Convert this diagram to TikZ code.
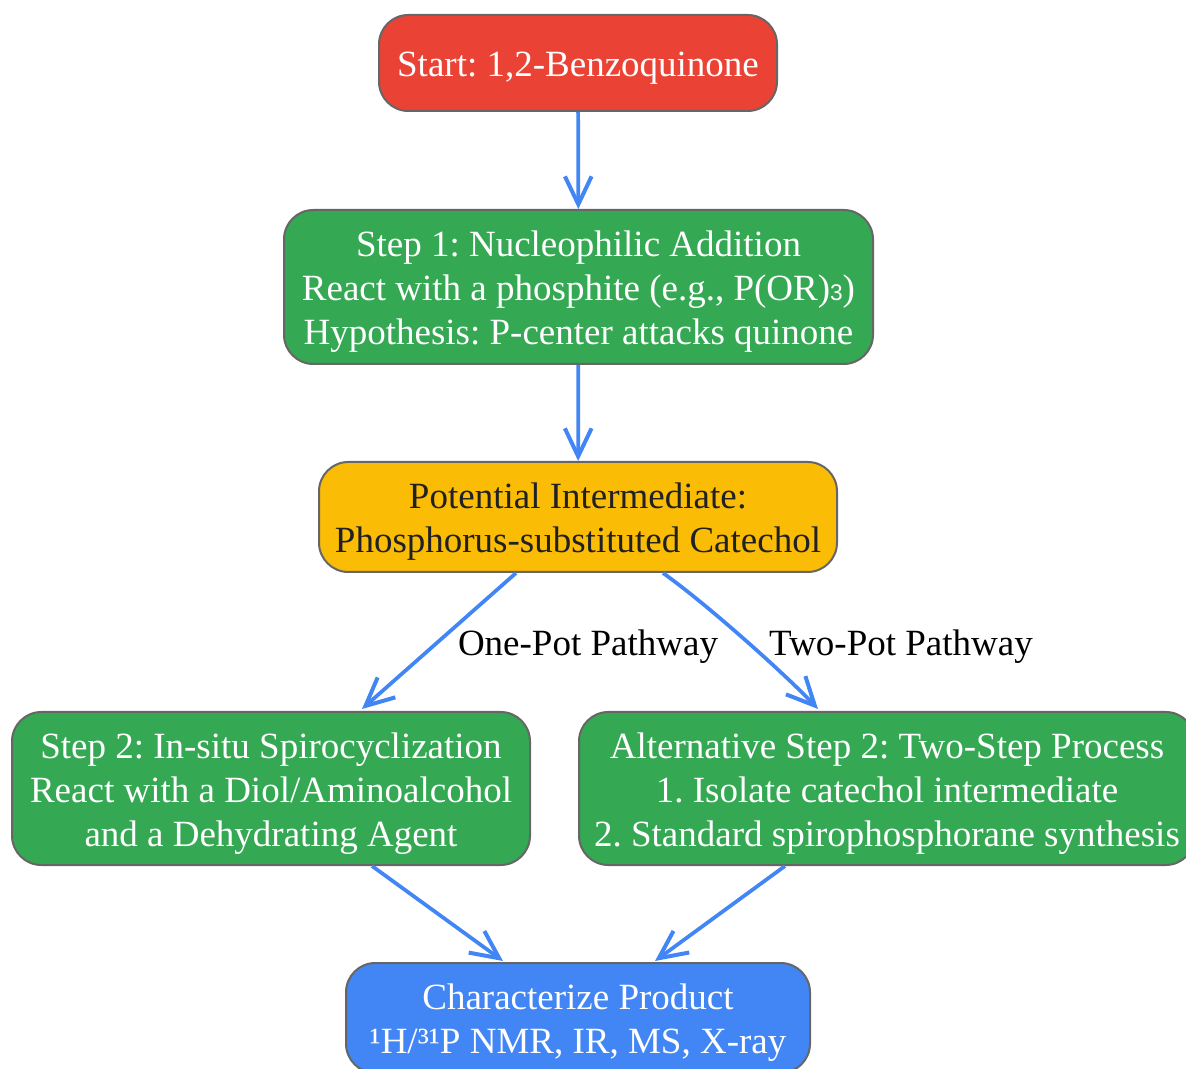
\documentclass[tikz,border=0pt]{standalone}
\usepackage{fontspec}
\setmainfont{Liberation Serif}
\newfontfamily\subfont{Liberation Sans}
\usetikzlibrary{arrows.meta,calc}
\definecolor{cred}{HTML}{EA4335}
\definecolor{cgreen}{HTML}{34A853}
\definecolor{cyellow}{HTML}{FBBC05}
\definecolor{cblue}{HTML}{4285F4}
\definecolor{cborder}{HTML}{666666}
\definecolor{cdark}{HTML}{202124}
\newcommand{\btxt}[1]{\raisebox{-3.8pt}[\height][\depth]{\begin{tabular}{@{}c@{}}#1\end{tabular}}}
\begin{document}
\begin{tikzpicture}[x=0.75pt,y=-0.75pt,
  box/.style={draw=cborder, line width=1.5pt, rounded corners=22pt,
    font=\fontsize{27.75}{33}\selectfont\frenchspacing, inner sep=0pt},
  conn/.style={draw=cblue, line width=2.8pt,
    -{Straight Barb[length=21pt,width=20pt,line width=3pt]}},
  lbl/.style={font=\fontsize{27.75}{33}\selectfont, text=black, inner sep=0pt}]
\useasboundingbox (0,0) rectangle (1186,1069);
\node[box, fill=cred, text=white, minimum width=298.5pt, minimum height=72pt] (start) at (578,63)
  {\btxt{Start: 1,2-Benzoquinone}};
\node[box, fill=cgreen, text=white, minimum width=441.75pt, minimum height=115.5pt] (step1) at (578.5,287)
  {\btxt{Step 1: Nucleophilic Addition\\React with a phosphite (e.g., P(OR){\subfont\fontsize{17}{17}\selectfont 3})\\Hypothesis: P-center attacks quinone}};
\node[box, fill=cyellow, text=cdark, minimum width=388.5pt, minimum height=82.5pt] (inter) at (578,517)
  {\btxt{Potential Intermediate:\\Phosphorus-substituted Catechol}};
\node[box, fill=cgreen, text=white, minimum width=388.5pt, minimum height=114.75pt] (step2) at (271,788.5)
  {\btxt{Step 2: In-situ Spirocyclization\\React with a Diol/Aminoalcohol\\and a Dehydrating Agent}};
\node[box, fill=cgreen, text=white, minimum width=462pt, minimum height=114.75pt] (alt) at (887,788.5)
  {\btxt{Alternative Step 2: Two-Step Process\\1. Isolate catechol intermediate\\2. Standard spirophosphorane synthesis}};
\node[box, fill=cblue, text=white, minimum width=348pt, minimum height=82.5pt] (char) at (578,1018)
  {\btxt{Characterize Product\\¹H/³¹P NMR, IR, MS, X-ray}};
\draw[conn] (start) -- (step1);
\draw[conn] (step1) -- (inter);
\draw[conn] ($(inter.south)+(-62,0)$) -- ($(step2.north)+(91,-2)$);
\draw[conn] ($(inter.south)+(85,0)$) .. controls ($(inter.south)+(130,32)$) and ($(alt.north)+(-100,-35)$) .. ($(alt.north)+(-69,-2)$);
\draw[conn] ($(step2.south)+(101,0)$) -- ($(char.north)+(-75,-1)$);
\draw[conn] ($(alt.south)+(-102,0)$) -- ($(char.north)+(77,-1)$);
\node[lbl] (l1) at (588,647) {One-Pot Pathway};
\node[lbl] (l2) at (901,647) {Two-Pot Pathway};
\end{tikzpicture}
\end{document}
